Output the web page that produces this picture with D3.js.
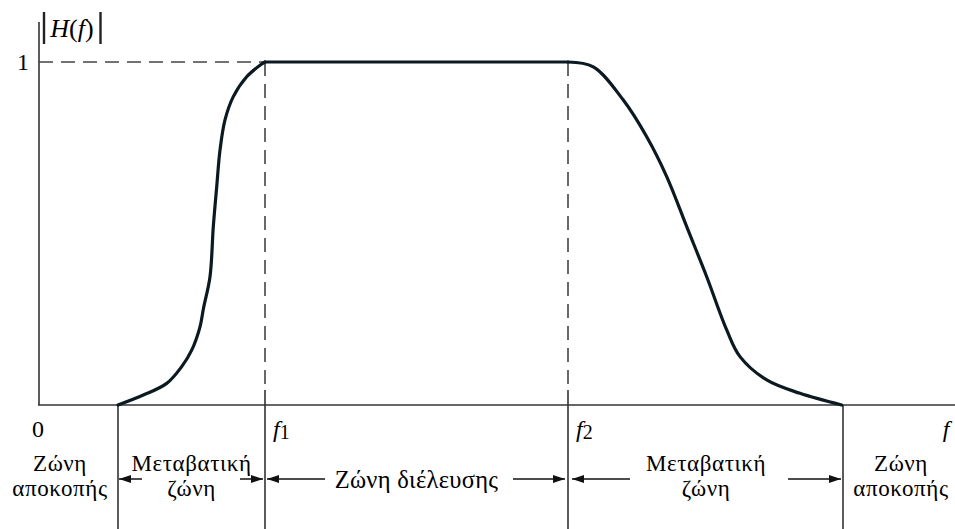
<!DOCTYPE html>
<html><head><meta charset="utf-8">
<script src="https://cdn.jsdelivr.net/npm/d3@7"></script>
<style>
html,body{margin:0;padding:0;background:#fff;}
svg{display:block;}
text{font-family:"Liberation Serif","DejaVu Serif",serif;fill:#000;}
</style></head>
<body><svg id="chart" width="955" height="529"></svg>
<script>
// Frequency response |H(f)| (arbitrary frequency units)
const riseF = [7.9, 10.43, 12.77, 14.27, 15.27, 16.1, 16.45, 17.1, 17.43, 17.77, 18.1, 18.6, 19.43, 20.77, 22.27, 22.6];
const riseH = [0, 0.029, 0.063, 0.112, 0.160, 0.228, 0.282, 0.374, 0.520, 0.636, 0.743, 0.831, 0.899, 0.957, 0.994, 1.0];
const fallF = [52.9, 55.43, 58.43, 60.77, 62.77, 64.77, 66.77, 68.77, 70.1, 72.77, 76.1, 80.27];
const fallH = [1.0, 0.986, 0.889, 0.782, 0.666, 0.52, 0.374, 0.219, 0.141, 0.073, 0.034, 0];
const f1 = 22.6, f2 = 52.9;
const stopEdgeLow = 7.9, stopEdgeHigh = 80.4;
const zoneLabels = [["Ζώνη","αποκοπής"],["Μεταβατική","ζώνη"],["Ζώνη διέλευσης"],["Μεταβατική","ζώνη"],["Ζώνη","αποκοπής"]];

const svg = d3.select("#chart");
const x = d3.scaleLinear().domain([0, 91.6]).range([39, 955]);
const y = d3.scaleLinear().domain([0, 1]).range([405, 62]);

const defs = svg.append("defs");
defs.append("marker").attr("id","arr-end").attr("viewBox","0 0 12 8")
  .attr("refX",12).attr("refY",4).attr("markerWidth",12).attr("markerHeight",8)
  .attr("markerUnits","userSpaceOnUse").attr("orient","auto")
  .append("path").attr("d","M0,0L12,4L0,8Z").attr("fill","#111");

const axisColor = "#333";
// axes
svg.append("line").attr("x1",x(0)).attr("x2",x(0)).attr("y1",22).attr("y2",y(0)).attr("stroke",axisColor).attr("stroke-width",1.6);
svg.append("line").attr("x1",x(0)-1).attr("x2",955).attr("y1",y(0)).attr("y2",y(0)).attr("stroke",axisColor).attr("stroke-width",1.6);

// dashed guides
const dash = "14,8";
svg.append("line").attr("x1",x(0)).attr("x2",x(f1)).attr("y1",y(1)).attr("y2",y(1)).attr("stroke","#444").attr("stroke-width",1.6).attr("stroke-dasharray",dash);
[f1,f2].forEach(f=>{
  svg.append("line").attr("x1",x(f)).attr("x2",x(f)).attr("y1",y(1)).attr("y2",y(0)-14).attr("stroke","#444").attr("stroke-width",1.6).attr("stroke-dasharray",dash);
  svg.append("line").attr("x1",x(f)).attr("x2",x(f)).attr("y1",y(0)-15).attr("y2",529).attr("stroke",axisColor).attr("stroke-width",1.6);
});
[stopEdgeLow, stopEdgeHigh].forEach(f=>{
  svg.append("line").attr("x1",x(f)).attr("x2",x(f)).attr("y1",y(0)).attr("y2",529).attr("stroke",axisColor).attr("stroke-width",1.6);
});

// curve: rise, flat passband, fall
const curve = d3.line().x(d=>x(d[0])).y(d=>y(d[1])).curve(d3.curveCatmullRom.alpha(0.5));
const straight = d3.line().x(d=>x(d[0])).y(d=>y(d[1]));
const risePts = riseF.map((f,i)=>[f,riseH[i]]);
const fallPts = fallF.map((f,i)=>[f,fallH[i]]);
const g = svg.append("g").attr("fill","none").attr("stroke","#0b1a20").attr("stroke-width",3.2).attr("stroke-linecap","round").attr("stroke-linejoin","round");
g.append("path").attr("d",curve(risePts));
g.append("path").attr("d",straight([[f1,1],[f2,1]]));
g.append("path").attr("d",curve(fallPts));

// |H(f)|
svg.append("line").attr("x1",44).attr("x2",44).attr("y1",12).attr("y2",44).attr("stroke","#222").attr("stroke-width",2.4);
svg.append("line").attr("x1",100.5).attr("x2",100.5).attr("y1",12).attr("y2",44).attr("stroke","#222").attr("stroke-width",2.4);
const ht = svg.append("text").attr("x",72).attr("y",37).attr("text-anchor","middle").attr("font-size",26);
ht.append("tspan").attr("font-style","italic").text("H");
ht.append("tspan").text("(");
ht.append("tspan").attr("font-style","italic").text("f");
ht.append("tspan").text(")");

// tick labels
svg.append("text").attr("x",23).attr("y",70).attr("text-anchor","middle").attr("font-size",24).text("1");
svg.append("text").attr("x",38).attr("y",437).attr("text-anchor","middle").attr("font-size",24).text("0");
[[f1,"1"],[f2,"2"]].forEach(([f,s])=>{
  const t = svg.append("text").attr("x",x(f)+8).attr("y",437).attr("font-size",24);
  t.append("tspan").attr("font-style","italic").text("f");
  t.append("tspan").attr("font-size",20).attr("dy",2).text(s);
});
svg.append("text").attr("x",946).attr("y",437).attr("text-anchor","middle").attr("font-size",24).attr("font-style","italic").text("f");

// zone labels
const zoneCenters = [60, (x(stopEdgeLow)+x(f1))/2, (x(f1)+x(f2))/2, 706, 901];
zoneLabels.forEach((lab,i)=>{
  if (lab.length===2){
    lab.forEach((s,k)=>{
      svg.append("text").attr("x",zoneCenters[i]).attr("y",470.5 + k*25.8)
        .attr("text-anchor","middle").attr("font-size",23).attr("letter-spacing",0.6).text(s);
    });
  } else {
    svg.append("text").attr("x",zoneCenters[i]).attr("y",488)
      .attr("text-anchor","middle").attr("font-size",24.5).attr("letter-spacing",0.3).text(lab[0]);
  }
});

// arrows
const ay = 479;
const arrows = [
  [142, x(stopEdgeLow)+1],
  [240, x(f1)-2],
  [325, x(f1)+2],
  [513, x(f2)-3],
  [630, x(f2)+4],
  [788, x(stopEdgeHigh)-2]
];
arrows.forEach(([a,b])=>{
  svg.append("line").attr("x1",a).attr("x2",b).attr("y1",ay).attr("y2",ay).attr("stroke","#111").attr("stroke-width",1.5).attr("marker-end","url(#arr-end)");
});
</script></body></html>
